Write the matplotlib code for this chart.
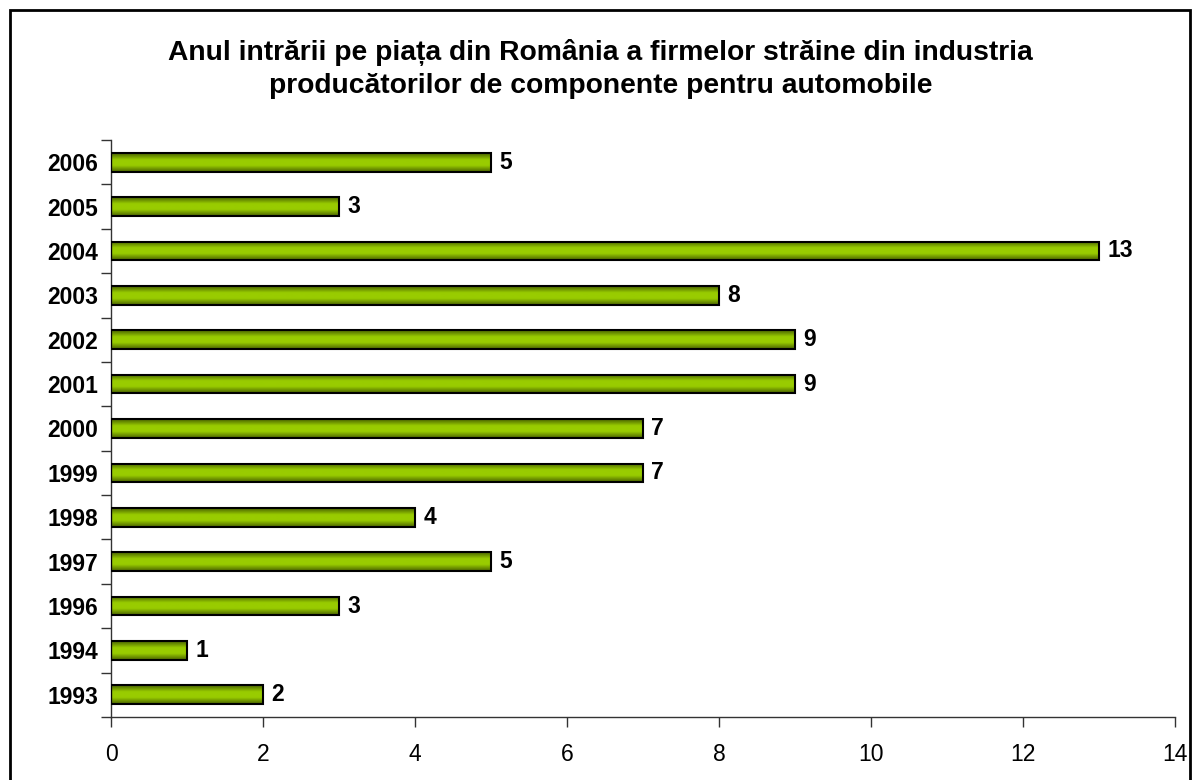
import matplotlib
matplotlib.use("Agg")
import matplotlib.pyplot as plt
import numpy as np
from matplotlib.patches import Rectangle
from matplotlib.colors import LinearSegmentedColormap

years = ["1993", "1994", "1996", "1997", "1998", "1999", "2000",
         "2001", "2002", "2003", "2004", "2005", "2006"]
counts = [2, 1, 3, 5, 4, 7, 7, 9, 9, 8, 13, 3, 5]
xticks = [0, 2, 4, 6, 8, 10, 12, 14]
title = ("Anul intrării pe piața din România a firmelor străine din industria\n"
         "producătorilor de componente pentru automobile")

plt.rcParams['font.family'] = ['Liberation Sans', 'DejaVu Sans']

fig = plt.figure(figsize=(11.97, 7.8), dpi=100)
ax = fig.add_axes([111/1197, 1-717/780, (1175-111)/1197, (717-140)/780])

# outer frame
fig.patches.append(Rectangle((10/1197, -0.05), (1190-10)/1197, 1-10/780+0.05,
                             transform=fig.transFigure, fill=False,
                             edgecolor='black', linewidth=2, zorder=0))

cmap = LinearSegmentedColormap.from_list(
    'g', [(0, '#4a6400'), (0.35, '#99cc00'), (0.65, '#99cc00'), (1, '#4a6400')])
grad = np.linspace(0, 1, 64).reshape(-1, 1)

ypos = np.arange(len(years))
h = 0.42
for y, v in zip(ypos, counts):
    ax.imshow(grad, cmap=cmap, aspect='auto', extent=(0, v, y - h/2, y + h/2),
              origin='lower', zorder=2, interpolation='bilinear')
    ax.add_patch(Rectangle((0, y - h/2), v, h, fill=False, edgecolor='black',
                           linewidth=1.5, zorder=3))
    ax.text(v + 0.11, y, str(v), va='center', ha='left', fontsize=16.5,
            fontweight='bold', zorder=4)

ax.set_xlim(0, 14)
ax.set_ylim(-0.5, len(years) - 0.5)
ax.set_xticks(xticks)
ax.set_xticklabels([str(t) for t in xticks], fontsize=16.5)
ax.set_yticks(ypos)
ax.set_yticklabels(years, fontsize=16.5, fontweight='bold')
ax.tick_params(axis='y', length=0, pad=9)
ax.set_yticks(np.arange(-0.5, len(years), 1.0), minor=True)
ax.tick_params(axis='y', which='minor', length=7, width=1, color='#333333')
ax.tick_params(axis='x', length=7, width=1, color='#333333', pad=12)
for s in ['top', 'right']:
    ax.spines[s].set_visible(False)
for s in ['left', 'bottom']:
    ax.spines[s].set_color('#333333')
    ax.spines[s].set_linewidth(1)

fig.text(0.5 + 2/1197, 1 - 69/780, title, ha='center', va='center',
         fontsize=20.3, fontweight='bold', linespacing=1.35)

fig.savefig('out.png', dpi=100)
